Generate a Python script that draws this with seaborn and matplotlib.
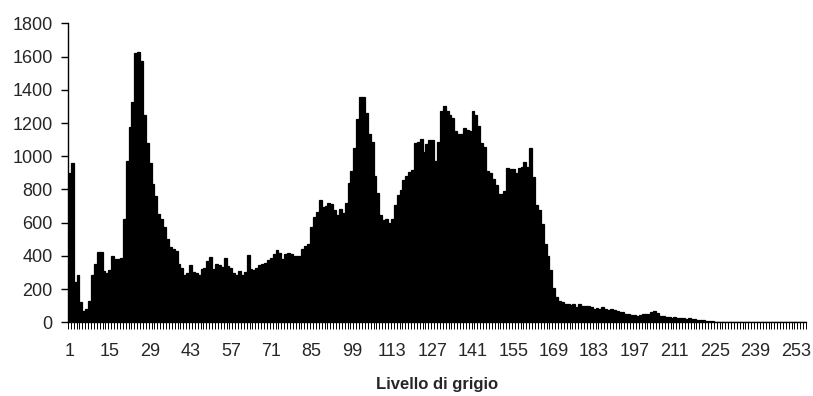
import matplotlib
matplotlib.use("Agg")
import matplotlib.pyplot as plt
import seaborn as sns
import numpy as np
import pandas as pd
from matplotlib.ticker import FixedLocator

# Gray levels 1..256
levels = [str(i) for i in range(1, 257)]

counts_1_60 = [900, 960, 240, 288, 124, 70, 78, 130, 284, 350,
               424, 424, 308, 295, 314, 398, 384, 384, 390, 624,
               970, 1178, 1328, 1620, 1630, 1574, 1246, 1078, 958, 830,
               760, 654, 624, 574, 500, 455, 440, 430, 354, 330,
               284, 298, 344, 304, 300, 288, 320, 328, 368, 394,
               324, 354, 345, 334, 388, 340, 330, 300, 288, 308]
counts_61_120 = [288, 304, 404, 320, 314, 328, 344, 354, 358, 374,
                 388, 410, 438, 418, 384, 414, 418, 410, 398, 398,
                 398, 440, 460, 470, 574, 634, 664, 738, 694, 698,
                 720, 714, 674, 644, 684, 660, 718, 840, 914, 1050,
                 1224, 1358, 1358, 1258, 1134, 1084, 884, 778, 644, 614,
                 624, 598, 624, 704, 764, 798, 854, 880, 904, 920]
counts_121_180 = [1078, 1084, 1104, 1028, 1074, 1098, 1100, 970, 1084, 1274,
                  1304, 1274, 1250, 1230, 1150, 1134, 1134, 1170, 1158, 1150,
                  1270, 1250, 1184, 1080, 1054, 914, 898, 864, 824, 774,
                  770, 790, 930, 926, 922, 898, 928, 938, 964, 938,
                  1050, 878, 704, 674, 594, 474, 400, 314, 204, 154,
                  130, 124, 108, 108, 104, 110, 94, 112, 100, 96]
counts_181_256 = [100, 90, 82, 86, 78, 92, 80, 74, 78, 72,
                  70, 62, 60, 52, 50, 44, 42, 36, 46, 50,
                  48, 52, 60, 66, 58, 40, 36, 34, 32, 28,
                  30, 26, 28, 24, 22, 24, 20, 18, 16, 14,
                  12, 10, 8, 6, 4, 2, 2, 1, 1, 1,
                  0, 1, 0, 0, 0, 0, 0, 0, 0, 0,
                  0, 0, 0, 0, 0, 0, 0, 0, 0, 0,
                  0, 0, 0, 0, 0, 0]
counts = counts_1_60 + counts_61_120 + counts_121_180 + counts_181_256

tick_labels = ["1", "15", "29", "43", "57", "71", "85", "99", "113", "127",
               "141", "155", "169", "183", "197", "211", "225", "239", "253"]
y_ticks = [0, 200, 400, 600, 800, 1000, 1200, 1400, 1600, 1800]

df = pd.DataFrame({"livello": levels, "conteggio": counts})

sns.set_theme(style="ticks")
plt.rcParams["font.family"] = ["Liberation Sans", "DejaVu Sans"]

fig = plt.figure(figsize=(8.13, 3.96), dpi=100)
ax = fig.add_axes([0.0836, 0.186, 0.9078, 0.755])

sns.barplot(data=df, x="livello", y="conteggio", order=levels,
            color="black", width=1.0, saturation=1.0,
            edgecolor="black", linewidth=0.9, ax=ax)

ax.set_xlim(-0.5, len(levels) - 0.5)
ax.set_ylim(0, 1800)
ax.set_yticks(y_ticks)
ax.set_yticklabels([str(v) for v in y_ticks], fontsize=13)

pos = [levels.index(t) for t in tick_labels]
ax.set_xticks(pos)
ax.set_xticklabels(tick_labels, fontsize=13)
ax.tick_params(axis="x", which="major", length=0, pad=15)
ax.xaxis.set_minor_locator(FixedLocator(np.arange(-0.5, len(levels), 1.0)))
ax.tick_params(axis="x", which="minor", length=5, width=0.7, color="black", direction="out")
ax.tick_params(axis="y", which="major", length=5, width=1, color="black", pad=6, direction="out")

ax.set_xlabel("Livello di grigio", fontsize=12, fontweight="bold", labelpad=12)
ax.set_ylabel("")

for s in ["top", "right"]:
    ax.spines[s].set_visible(False)
for s in ["left", "bottom"]:
    ax.spines[s].set_color("black")
    ax.spines[s].set_linewidth(1.0)
ax.grid(False)

fig.savefig("out.png", dpi=100, facecolor="white")
